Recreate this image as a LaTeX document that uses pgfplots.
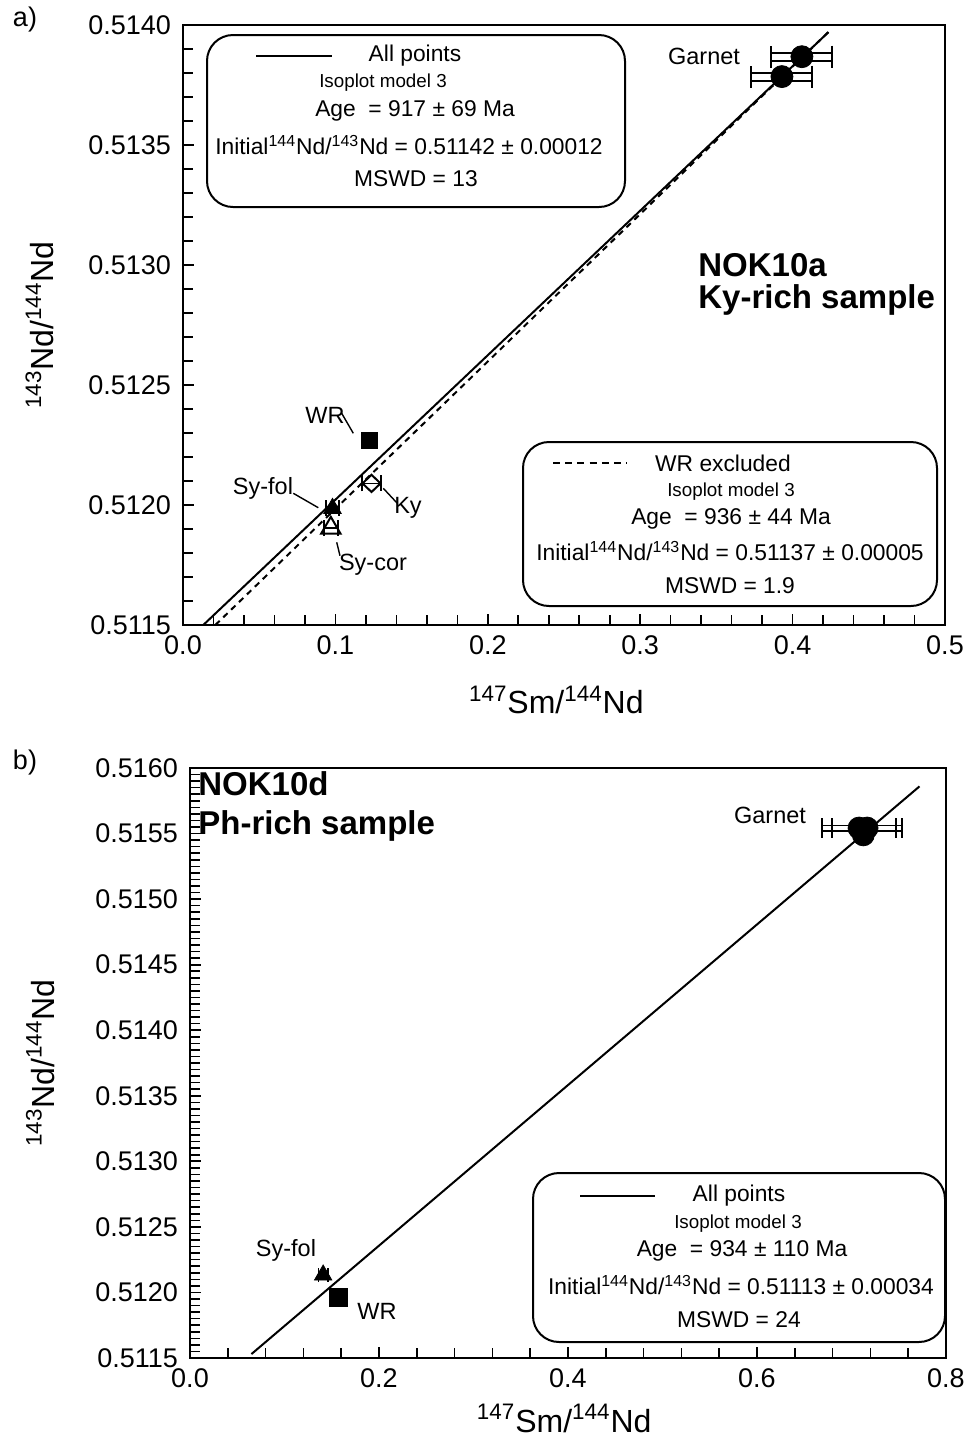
\documentclass[border=0pt]{standalone}
\usepackage{fontspec}
\setmainfont{Liberation Sans}
\usepackage{pgfplots}
\pgfplotsset{compat=1.18}

\newcommand\lab{\fontsize{11.75}{14}\selectfont}
\newcommand\boxf{\fontsize{11.4}{13}\selectfont}
\newcommand\isof{\fontsize{9.4}{11}\selectfont}
\newcommand\bigb{\fontsize{16.5}{19}\selectfont\bfseries}
\newcommand\ratio{Initial\textsuperscript{144}Nd/\textsuperscript{143}Nd}

\pgfplotsset{
  isoplot/.style={
    scale only axis,
    anchor=north west,
    tick pos=left,
    tick align=inside,
    axis line style={line width=1.4pt},
    major tick style={line width=0.9pt, black},
    minor tick style={line width=0.8pt, black},
    major tick length=5.5pt,
    minor tick length=5pt,
    scaled ticks=false,
    /pgf/number format/assume math mode=true,
    ticklabel style={font=\fontsize{13.5}{15}\selectfont},
    label style={font=\fontsize{16}{18}\selectfont},
    yticklabel style={/pgf/number format/.cd, fixed, fixed zerofill, precision=4, /tikz/.cd, xshift=-2.5pt},
    xticklabel style={/pgf/number format/.cd, fixed, fixed zerofill, precision=1, /tikz/.cd, yshift=-2pt},
    xlabel={\textsuperscript{147}Sm/\textsuperscript{144}Nd},
    ylabel={\textsuperscript{143}Nd/\textsuperscript{144}Nd},
  },
  xerr/.style={only marks, mark=none, black,
    error bars/.cd, x dir=both, x explicit,
    error bar style={black, line width=0.9pt, #1},
    error mark options={black, rotate=90, line width=1pt, mark size=3.5pt}},
  xerrs/.style={
    error bars/.cd, x dir=both, x explicit,
    error bar style={black, line width=0.8pt},
    error mark options={black, rotate=90, line width=0.9pt, mark size=#1}},
}

\begin{document}
\begin{tikzpicture}
\useasboundingbox (0,0) rectangle (487pt,-718.5pt);

% ---------- a) NOK10a ----------
\begin{axis}[isoplot,
  at={(91.5pt,-12.5pt)}, width=381pt, height=300pt,
  xmin=0, xmax=0.5, ymin=0.5115, ymax=0.5140,
  xtick={0,0.1,0.2,0.3,0.4,0.5},
  ytick={0.5115,0.5120,0.5125,0.5130,0.5135,0.5140},
  minor x tick num=4, minor y tick num=4,
  xlabel style={at={(axis description cs:0.49,-0.125)}, anchor=center},
  ylabel style={at={(axis description cs:-0.188,0.5)}, anchor=center},
]
% all points isochron
\addplot[black, line width=1pt] coordinates {(0.0133,0.5115) (0.4235,0.51397)};
% WR excluded isochron
\addplot[black, line width=1pt, dash pattern=on 3pt off 2.5pt] coordinates {(0.0212,0.5115) (0.4250,0.51398)};

% garnet error bars (drawn as double bars)
\addplot[xerr={yshift=2pt}] coordinates {(0.4061,0.513868) +- (0.020,0) (0.3930,0.513785) +- (0.020,0)};
\addplot[xerr={yshift=-2pt}] coordinates {(0.4061,0.513868) +- (0.020,0) (0.3930,0.513785) +- (0.020,0)};
\addplot[only marks, mark=*, mark size=5.5pt, black] coordinates {(0.4061,0.513868) (0.3930,0.513785)};
% WR
\addplot[only marks, mark=square*, mark size=4pt, black] coordinates {(0.1221,0.512271)};
% Ky
\addplot[only marks, mark=diamond, black, mark size=4.3pt,
  mark options={xscale=1.4, line width=1pt, fill=white}, xerrs=4pt]
  coordinates {(0.1237,0.51209) +- (0.006,0)};
% Sy-cor
\addplot[only marks, mark=triangle, black, mark size=5.6pt,
  mark options={line width=1pt, fill=white}, xerrs=4pt]
  coordinates {(0.0970,0.511904) +- (0.0045,0)};
% Sy-fol
\addplot[only marks, mark=triangle*, black, mark size=5pt, xerrs=4pt]
  coordinates {(0.0981,0.511986) +- (0.0045,0)};
\end{axis}

% ---------- b) NOK10d ----------
\begin{axis}[isoplot,
  at={(95pt,-384pt)}, width=378pt, height=295pt,
  xmin=0, xmax=0.8, ymin=0.5115, ymax=0.5160,
  xtick={0,0.2,0.4,0.6,0.8},
  ytick={0.5115,0.5120,0.5125,0.5130,0.5135,0.5140,0.5145,0.5150,0.5155,0.5160},
  minor x tick num=4, minor y tick num=9,
  xlabel style={at={(axis description cs:0.495,-0.102)}, anchor=center},
  ylabel style={at={(axis description cs:-0.198,0.5)}, anchor=center},
]
\addplot[black, line width=1pt] coordinates {(0.0650,0.51153) (0.7720,0.51586)};

\addplot[xerr={yshift=1.3pt}] coordinates {(0.7080,0.515542) +- (0.039,0) (0.7165,0.515542) +- (0.037,0)};
\addplot[xerr={yshift=-1.3pt}] coordinates {(0.7080,0.515542) +- (0.039,0) (0.7165,0.515542) +- (0.037,0)};
\addplot[only marks, mark=*, mark size=5.5pt, black] coordinates {(0.7080,0.515542) (0.7165,0.515542) (0.7125,0.51549)};
% WR
\addplot[only marks, mark=square*, mark size=4.5pt, black] coordinates {(0.1575,0.511963)};
% Sy-fol
\addplot[only marks, mark=triangle*, black, mark size=5pt, xerrs=3.5pt]
  coordinates {(0.1409,0.512133) +- (0.005,0)};
\end{axis}

% ---------- annotations (pixel grid of the figure) ----------
\begin{scope}[x=0.5pt, y=-0.5pt, every node/.style={inner sep=0pt, anchor=center}]
\node[font=\fontsize{13.5}{15}\selectfont] at (25,20) {a)};
\node[font=\fontsize{13.5}{15}\selectfont] at (25,762) {b)};

% panel a labels
\node[font=\lab] at (704,56) {Garnet};
\node[font=\lab] at (325,415) {WR};
\draw[line width=0.7pt] (341.7,413.3) -- (353.3,433.3);
\node[font=\lab] at (408,508) {Ky};
\draw[line width=0.7pt] (383.3,488.3) -- (397.3,503.3);
\node[font=\lab] at (263,488) {Sy-fol};
\draw[line width=0.7pt] (293.3,493.3) -- (318.3,507.7);
\node[font=\lab] at (373,565) {Sy-cor};
\draw[line width=0.7pt] (336.7,542.3) -- (340,555.7);
\node[font=\bigb, anchor=west] at (698,265) {NOK10a};
\node[font=\bigb, anchor=west] at (698,300) {Ky-rich sample};

% panel a box 1
\draw[line width=1pt, rounded corners=13pt] (207,35) rectangle (625,207);
\draw[line width=1.2pt] (256,56) -- (332,56);
\node[font=\boxf] at (415,56) {All points};
\node[font=\isof] at (383,83) {Isoplot model 3};
\node[font=\boxf] at (415,111) {Age\ \ = 917 ± 69 Ma};
\node[font=\boxf] at (409,145) {\ratio{} = 0.51142 ± 0.00012};
\node[font=\boxf] at (416,179) {MSWD = 13};

% panel a box 2
\draw[line width=1pt, rounded corners=13pt] (523,442) rectangle (937,606);
\draw[line width=1.2pt, dash pattern=on 3.5pt off 2.6pt] (553,463) -- (627,463);
\node[font=\boxf] at (723,463) {WR excluded};
\node[font=\isof] at (731,492) {Isoplot model 3};
\node[font=\boxf] at (731,519) {Age\ \ = 936 ± 44 Ma};
\node[font=\boxf] at (730,551) {\ratio{} = 0.51137 ± 0.00005};
\node[font=\boxf] at (730,586) {MSWD = 1.9};

% panel b labels
\node[font=\lab] at (770,815) {Garnet};
\node[font=\lab] at (286,1250) {Sy-fol};
\node[font=\lab] at (377,1311) {WR};
\node[font=\bigb, anchor=west] at (198,784) {NOK10d};
\node[font=\bigb, anchor=west] at (198,826) {Ph-rich sample};

% panel b box
\draw[line width=1pt, rounded corners=13pt] (533,1173) rectangle (945,1342);
\draw[line width=1.2pt] (580,1196) -- (655,1196);
\node[font=\boxf] at (739,1196) {All points};
\node[font=\isof] at (738,1224) {Isoplot model 3};
\node[font=\boxf] at (742,1251) {Age\ \ = 934 ± 110 Ma};
\node[font=\boxf] at (741,1285) {\ratio{} = 0.51113 ± 0.00034};
\node[font=\boxf] at (739,1320) {MSWD = 24};
\end{scope}
\end{tikzpicture}
\end{document}
